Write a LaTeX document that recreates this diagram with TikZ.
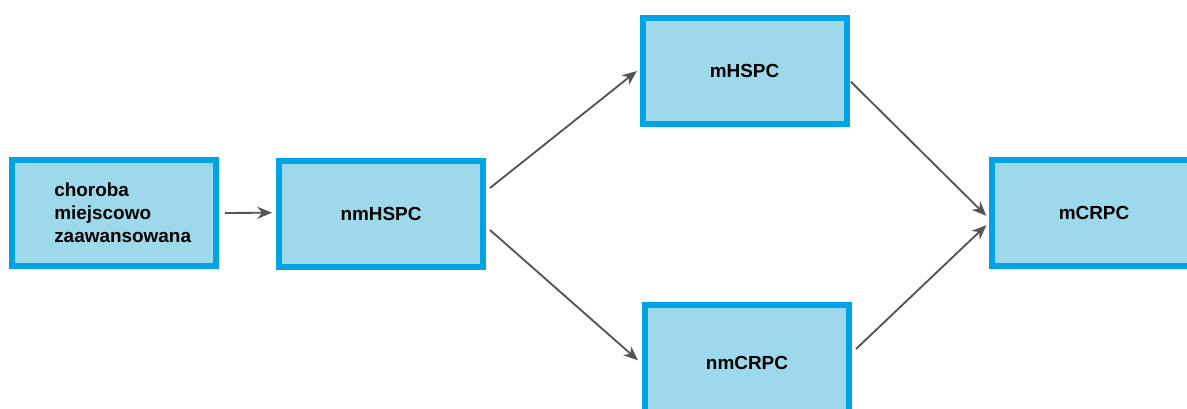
\documentclass[tikz,border=0pt]{standalone}
\usepackage{fontspec}
\setmainfont{Liberation Sans}
\usepackage{tikz}
\usetikzlibrary{arrows.meta}
\definecolor{boxblue}{RGB}{0,164,228}
\definecolor{boxfill}{RGB}{157,217,234}
\definecolor{arrowgray}{RGB}{85,85,85}
\tikzset{
  stage/.style={draw=boxblue, fill=boxfill, line width=4.5pt, minimum width=153pt, minimum height=79.5pt, inner sep=0pt, font=\fontsize{14.2}{17.3}\selectfont\bfseries},
  flow/.style={draw=arrowgray, line width=1.4pt, -{Stealth[length=11pt,width=9pt]}}
}
\begin{document}
\begin{tikzpicture}[x=0.75pt,y=0.75pt,yscale=-1,xscale=1]
\useasboundingbox (0,0) rectangle (1187,408);
\clip (0,0) rectangle (1187,408);

% Boxes
\node [stage] (locadv) at (114,213) {};
\node [stage] (nmhspc) at (381,214) {nmHSPC};
\node [stage] (mhspc) at (744.5,71) {mHSPC};
\node [stage] (mcrpc) at (1094,212.5) {mCRPC};
\node [stage, minimum height=87pt] (nmcrpc) at (747,363) {nmCRPC};

% Text Node
\node [anchor=west, inner sep=0pt, align=left, font=\fontsize{14.2}{17.3}\selectfont\bfseries] (locadvtext) at (54,213) {choroba\\miejscowo\\zaawansowana};

% Arrows
\draw [flow] ([xshift=4.5pt]locadv.east) -- ([xshift=-3pt,yshift=-1pt]nmhspc.west);
\draw [flow] ([xshift=3pt,yshift=-19.5pt]nmhspc.east) -- ([xshift=-2pt]mhspc.west);
\draw [flow] ([xshift=3pt,yshift=12pt]nmhspc.east) -- ([xshift=-3pt,yshift=-2pt]nmcrpc.west);
\draw [flow] ([xshift=1pt,yshift=8pt]mhspc.east) -- ([xshift=-2pt,yshift=2.5pt]mcrpc.west);
\draw [flow] ([xshift=3pt,yshift=-10.5pt]nmcrpc.east) -- ([xshift=-2pt,yshift=9.5pt]mcrpc.west);

\end{tikzpicture}
\end{document}
